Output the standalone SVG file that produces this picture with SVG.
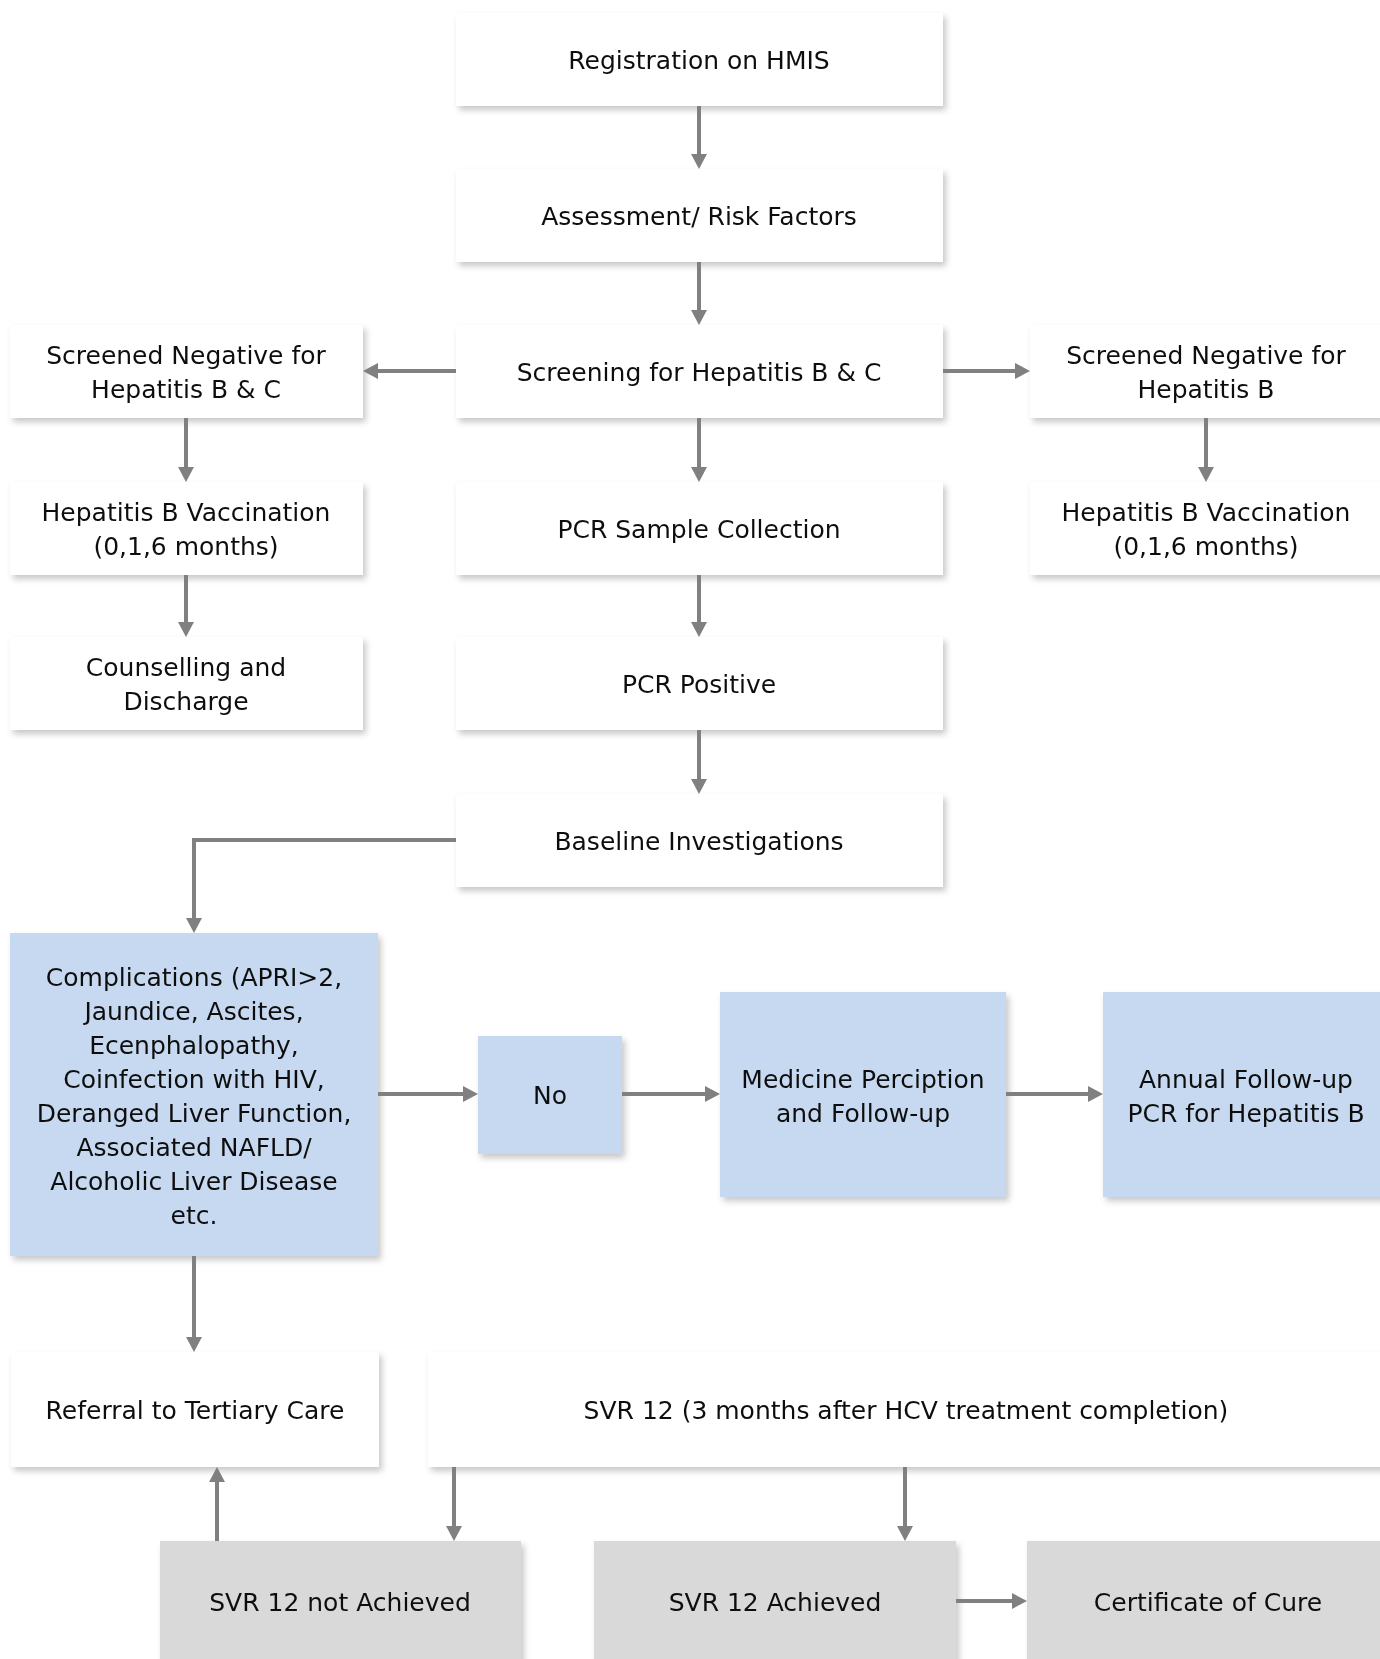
<svg xmlns="http://www.w3.org/2000/svg" width="1380" height="1659" viewBox="0 0 1380 1659">
<style>
  .box{stroke:none}
  .w{fill:#ffffff}
  .b{fill:#c6d9f1}
  .g{fill:#d9d9d9}
  .t{font-family:"DejaVu Sans","Verdana",sans-serif;font-size:25px;fill:#111111;text-anchor:middle}
  .c{fill:none;stroke:#808080;stroke-width:4;marker-end:url(#ah)}
</style>
<defs>
  <filter id="sh" x="-10%" y="-10%" width="125%" height="130%">
    <feDropShadow dx="3" dy="4" stdDeviation="3" flood-color="#000000" flood-opacity="0.22"/>
  </filter>
  <marker id="ah" markerUnits="userSpaceOnUse" markerWidth="16" markerHeight="16" refX="0" refY="8" orient="auto">
    <path d="M0,0 L15,8 L0,16 z" fill="#808080"/>
  </marker>
</defs>
<rect width="1380" height="1659" fill="#ffffff"/>
<g id="nodes" filter="url(#sh)">
  <g id="registration"><rect class="box w" x="456" y="13" width="487" height="93"/><text class="t" x="699" y="69">Registration on HMIS</text></g>
  <g id="assessment"><rect class="box w" x="456" y="169" width="487" height="93"/><text class="t" x="699" y="225">Assessment/ Risk Factors</text></g>
  <g id="screening"><rect class="box w" x="456" y="325" width="487" height="93"/><text class="t" x="699" y="381">Screening for Hepatitis B &amp; C</text></g>
  <g id="pcr-sample"><rect class="box w" x="456" y="482" width="487" height="93"/><text class="t" x="699" y="538">PCR Sample Collection</text></g>
  <g id="pcr-positive"><rect class="box w" x="456" y="637" width="487" height="93"/><text class="t" x="699" y="693">PCR Positive</text></g>
  <g id="baseline"><rect class="box w" x="456" y="794" width="487" height="93"/><text class="t" x="699" y="850">Baseline Investigations</text></g>
  <g id="neg-bc"><rect class="box w" x="10" y="325" width="353" height="93"/><text class="t" x="186" y="364">Screened Negative for</text><text class="t" x="186" y="398">Hepatitis B &amp; C</text></g>
  <g id="vacc-left"><rect class="box w" x="10" y="482" width="353" height="93"/><text class="t" x="186" y="521">Hepatitis B Vaccination</text><text class="t" x="186" y="555">(0,1,6 months)</text></g>
  <g id="counselling"><rect class="box w" x="10" y="637" width="353" height="93"/><text class="t" x="186" y="676">Counselling and</text><text class="t" x="186" y="710">Discharge</text></g>
  <g id="neg-b"><rect class="box w" x="1030" y="325" width="353" height="93"/><text class="t" x="1206" y="364">Screened Negative for</text><text class="t" x="1206" y="398">Hepatitis B</text></g>
  <g id="vacc-right"><rect class="box w" x="1030" y="482" width="353" height="93"/><text class="t" x="1206" y="521">Hepatitis B Vaccination</text><text class="t" x="1206" y="555">(0,1,6 months)</text></g>
  <g id="complications"><rect class="box b" x="10" y="933" width="368" height="323"/>
    <text class="t" x="194" y="986">Complications (APRI&gt;2,</text>
    <text class="t" x="194" y="1020">Jaundice, Ascites,</text>
    <text class="t" x="194" y="1054">Ecenphalopathy,</text>
    <text class="t" x="194" y="1088">Coinfection with HIV,</text>
    <text class="t" x="194" y="1122">Deranged Liver Function,</text>
    <text class="t" x="194" y="1156">Associated NAFLD/</text>
    <text class="t" x="194" y="1190">Alcoholic Liver Disease</text>
    <text class="t" x="194" y="1224">etc.</text>
  </g>
  <g id="no"><rect class="box b" x="478" y="1036" width="144" height="118"/><text class="t" x="550" y="1104">No</text></g>
  <g id="medicine"><rect class="box b" x="720" y="992" width="286" height="205"/><text class="t" x="863" y="1088">Medicine Perciption</text><text class="t" x="863" y="1122">and Follow-up</text></g>
  <g id="annual"><rect class="box b" x="1103" y="992" width="286" height="205"/><text class="t" x="1246" y="1088">Annual Follow-up</text><text class="t" x="1246" y="1122">PCR for Hepatitis B</text></g>
  <g id="referral"><rect class="box w" x="11" y="1352" width="368" height="115"/><text class="t" x="195" y="1419">Referral to Tertiary Care</text></g>
  <g id="svr12"><rect class="box w" x="428" y="1352" width="956" height="115"/><text class="t" x="906" y="1419">SVR 12 (3 months after HCV treatment completion)</text></g>
  <g id="svr-not"><rect class="box g" x="160" y="1541" width="361" height="122"/><text class="t" x="340" y="1611">SVR 12 not Achieved</text></g>
  <g id="svr-ach"><rect class="box g" x="594" y="1541" width="362" height="122"/><text class="t" x="775" y="1611">SVR 12 Achieved</text></g>
  <g id="certificate"><rect class="box g" x="1027" y="1541" width="362" height="122"/><text class="t" x="1208" y="1611">Certificate of Cure</text></g>
</g>
<g id="connectors">
  <path class="c" d="M699,106 V154"/>
  <path class="c" d="M699,262 V310"/>
  <path class="c" d="M699,418 V467"/>
  <path class="c" d="M699,575 V622"/>
  <path class="c" d="M699,730 V779"/>
  <path class="c" d="M456,371 H378"/>
  <path class="c" d="M943,371 H1015"/>
  <path class="c" d="M186,418 V467"/>
  <path class="c" d="M186,575 V622"/>
  <path class="c" d="M1206,418 V467"/>
  <path class="c" d="M456,840 H194 V918"/>
  <path class="c" d="M378,1094 H463"/>
  <path class="c" d="M622,1094 H705"/>
  <path class="c" d="M1006,1094 H1088"/>
  <path class="c" d="M194,1256 V1337"/>
  <path class="c" d="M217,1541 V1482"/>
  <path class="c" d="M454,1467 V1526"/>
  <path class="c" d="M905,1467 V1526"/>
  <path class="c" d="M956,1601 H1012"/>
</g>
</svg>
